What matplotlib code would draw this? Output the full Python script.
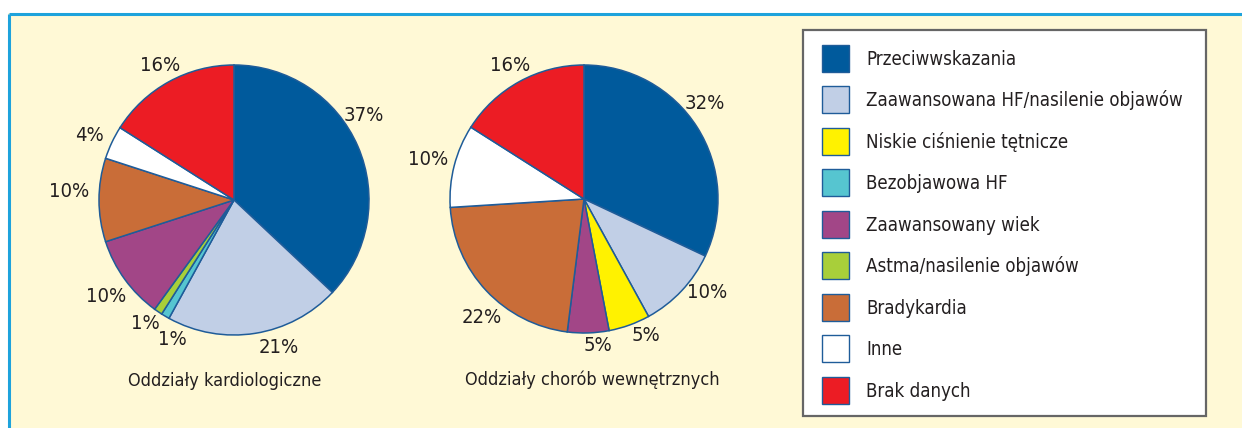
import matplotlib
matplotlib.use('Agg')
import matplotlib.pyplot as plt
from matplotlib import font_manager
from matplotlib.patches import Rectangle
import numpy as np

# ---------------- data ----------------
legend_categories = [
    "Przeciwwskazania",
    "Zaawansowana HF/nasilenie objawów",
    "Niskie ciśnienie tętnicze",
    "Bezobjawowa HF",
    "Zaawansowany wiek",
    "Astma/nasilenie objawów",
    "Bradykardia",
    "Inne",
    "Brak danych",
]
category_colors = {
    "Przeciwwskazania": "#005A9C",
    "Zaawansowana HF/nasilenie objawów": "#C1CFE6",
    "Niskie ciśnienie tętnicze": "#FFF200",
    "Bezobjawowa HF": "#56C5D0",
    "Zaawansowany wiek": "#A24687",
    "Astma/nasilenie objawów": "#A8CF3A",
    "Bradykardia": "#C96D38",
    "Inne": "#FFFFFF",
    "Brak danych": "#EC1C24",
}

# order of wedges (clockwise from 12 o'clock)
pie_order = [
    "Przeciwwskazania",
    "Zaawansowana HF/nasilenie objawów",
    "Niskie ciśnienie tętnicze",
    "Bezobjawowa HF",
    "Astma/nasilenie objawów",
    "Zaawansowany wiek",
    "Bradykardia",
    "Inne",
    "Brak danych",
]
kardio_values = [37, 21, 0, 1, 1, 10, 10, 4, 16]
interna_values = [32, 10, 5, 0, 0, 5, 22, 10, 16]

kardio_title = "Oddziały kardiologiczne"
interna_title = "Oddziały chorób wewnętrznych"

# label placement styles (distance in radii, angular nudge in degrees clockwise)
kardio_label_dist = [1.15, 1.14, 1.13, 1.13, 1.19, 1.22, 1.17, 1.14]
kardio_label_nudge = [-9.6, -8.0, -6.6, 1.5, -1.0, 3.0, -1.0, 0.0]
interna_label_dist = [1.15, 1.155, 1.12, 1.10, 1.17, 1.20, 1.14]
interna_label_nudge = [-6.0, -6.0, -4.5, -3.5, -6.0, 0.0, 0.0]

# ---------------- style ----------------
names = {f.name for f in font_manager.fontManager.ttflist}
if 'Liberation Sans Narrow' in names:
    FONT = dict(family='Liberation Sans Narrow')
else:
    FONT = dict(family='DejaVu Sans', stretch='condensed')
TXT = '#231F20'
EDGE = '#1F5C99'
CREAM = '#FFF9D6'
FRAME_BLUE = '#1EA3DC'

W, H = 1242, 428
fig = plt.figure(figsize=(W / 100, H / 100), dpi=100, facecolor='white')

# background overlay in pixel coordinates
bg = fig.add_axes([0, 0, 1, 1])
bg.set_xlim(0, W)
bg.set_ylim(H, 0)
bg.axis('off')
bg.add_patch(Rectangle((8, 13), W - 8, H - 13, facecolor=CREAM, edgecolor='none'))
bg.plot([8.5, W], [13.5, 13.5], color=FRAME_BLUE, lw=2.2, solid_capstyle='butt')
bg.plot([8.5, 8.5], [13.5, H], color=FRAME_BLUE, lw=2.2, solid_capstyle='butt')

# legend box
bg.add_patch(Rectangle((803, 30), 403, 386, facecolor='white', edgecolor='#666666', lw=1.6))
row0, pitch = 58, 41.5
for i, cat in enumerate(legend_categories):
    yc = row0 + i * pitch
    bg.add_patch(Rectangle((822, yc - 13.5), 27, 27, facecolor=category_colors[cat],
                           edgecolor=EDGE, lw=1.0))
    bg.text(866, yc + 6.8, cat, ha='left', va='baseline', fontsize=13.4, color=TXT, **FONT)


def draw_pie(cx, cy, r, values, dists, nudges, title, title_xy):
    ax = fig.add_axes([(cx - r) / W, 1 - (cy + r) / H, 2 * r / W, 2 * r / H])
    cats = [c for c, v in zip(pie_order, values) if v > 0]
    vals = [v for v in values if v > 0]
    wedges, _ = ax.pie(vals, colors=[category_colors[c] for c in cats], startangle=90,
                       counterclock=False, radius=1,
                       wedgeprops=dict(edgecolor=EDGE, linewidth=1.1))
    ax.set_xlim(-1, 1)
    ax.set_ylim(-1, 1)
    ax.set_aspect('equal')
    ax.axis('off')
    for w, v, d, n in zip(wedges, vals, dists, nudges):
        phi = (w.theta1 + w.theta2) / 2.0
        theta = 90 - phi + n
        phi2 = np.deg2rad(90 - theta)
        ax.text(d * np.cos(phi2), d * np.sin(phi2), f"{v}%", ha='center', va='center',
                fontsize=14.5, color=TXT, clip_on=False, **FONT)
    bg.text(title_xy[0], title_xy[1], title, ha='center', va='center', fontsize=13,
            color=TXT, **FONT)


draw_pie(234, 200, 135, kardio_values, kardio_label_dist, kardio_label_nudge,
         kardio_title, (225, 381))
draw_pie(584, 199, 134, interna_values, interna_label_dist, interna_label_nudge,
         interna_title, (592, 380))

fig.savefig('out.png', dpi=100, facecolor='white')
